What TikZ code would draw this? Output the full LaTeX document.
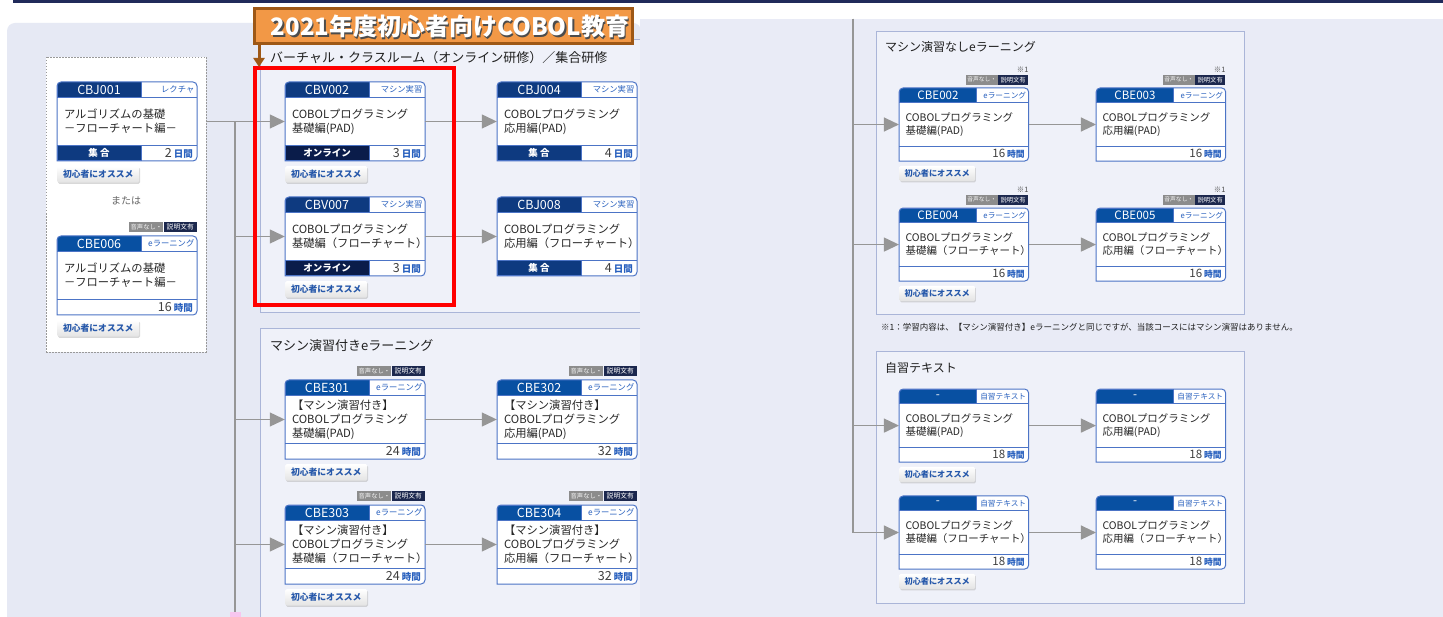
\documentclass[tikz,border=0pt]{standalone}
\usepackage{fontspec}
\setmainfont{Noto Sans CJK JP}
\usepackage{tikz}
\usetikzlibrary{arrows.meta,positioning,shadows}
\definecolor{colorbar}{RGB}{32,42,90}
\definecolor{colorbgl}{RGB}{230,233,244}
\definecolor{colorbgr}{RGB}{233,235,246}
\definecolor{colorpanel}{RGB}{239,241,249}
\definecolor{colorpanelline}{RGB}{170,181,216}
\definecolor{colornavy}{RGB}{14,58,128}
\definecolor{colorblue}{RGB}{8,80,162}
\definecolor{colordark}{RGB}{10,28,74}
\definecolor{colorcard}{RGB}{76,116,198}
\definecolor{colorkind}{RGB}{40,96,190}
\definecolor{colortag}{RGB}{38,88,170}
\definecolor{colorlink}{RGB}{150,150,150}
\definecolor{colormute}{RGB}{140,140,140}
\definecolor{colornote}{RGB}{28,40,78}
\definecolor{colortitle}{RGB}{242,152,70}
\definecolor{colortitleline}{RGB}{158,88,22}
\definecolor{colorpink}{RGB}{247,198,239}
\newcommand{\bodyfont}{\fontsize{11.3}{14}\selectfont}
\newcommand{\idfont}{\fontsize{12.5}{14}\selectfont}
\newcommand{\kindfont}{\fontsize{8.3}{10}\selectfont}
\newcommand{\footfont}{\fontsize{9.5}{11}\selectfont\bfseries}
\newcommand{\timefont}{\fontsize{12.5}{14}\selectfont}
\newcommand{\unitfont}{\fontsize{9.5}{11}\selectfont\bfseries\color{colorkind}}
\newcommand{\tagfont}{\fontsize{8.8}{10}\selectfont\bfseries}
\newcommand{\mutefont}{\fontsize{6.3}{7}\selectfont}
\newcommand{\notefont}{\fontsize{6.8}{7}\selectfont}
\newcommand{\secfont}{\fontsize{13}{15}\selectfont}
\newcommand{\rsecfont}{\fontsize{12}{14}\selectfont}
\newcommand{\studytime}[2]{#1\,{\unitfont #2}}
\tikzstyle{course}=[rectangle, minimum width=140pt, minimum height=48pt, inner sep=0pt, text width=126pt, align=left, text=black!85, font=\bodyfont]
\tikzstyle{cardid}=[text=white, inner sep=0pt, font=\idfont]
\tikzstyle{cardkind}=[anchor=east, text=colorkind, inner sep=0pt, font=\kindfont]
\tikzstyle{cardfoot}=[text=white, inner sep=0pt, font=\footfont]
\tikzstyle{cardtime}=[anchor=east, text=black!75, inner sep=0pt, font=\timefont]
\tikzstyle{cardline}=[draw=colorcard, line width=1pt]
\tikzstyle{hdrjv}=[fill=colornavy, draw=colorcard, line width=1pt]
\tikzstyle{hdre}=[fill=colorblue, draw=colorcard, line width=1pt]
\tikzstyle{footjv}=[fill=colornavy, draw=colorcard, line width=1pt]
\tikzstyle{footol}=[fill=colordark, draw=colorcard, line width=1pt]
\tikzstyle{foote}=[fill=white]
\tikzstyle{recommend}=[anchor=north west, minimum width=82pt, minimum height=16.5pt, inner sep=0pt, rounded corners=1.5pt, top color=white, bottom color=black!11, drop shadow={shadow xshift=0.8pt, shadow yshift=-1.2pt, fill=black!30}, text=colortag, font=\tagfont]
\tikzstyle{audionote}=[anchor=south east, fill=colornote, text=white, minimum width=33pt, minimum height=10.5pt, inner sep=0pt, font=\notefont]
\tikzstyle{audiooff}=[fill=colormute, text=white!92!gray, minimum width=34pt, minimum height=10.5pt, inner sep=0pt, font=\mutefont]
\tikzstyle{noteone}=[anchor=south east, text=black!70, inner sep=0pt, font=\fontsize{8}{9}\selectfont]
\tikzstyle{prereq}=[draw=black!40, dash pattern=on 1.5pt off 1.5pt, fill=white, minimum width=160pt, minimum height=295pt, inner sep=0pt, outer sep=0pt, line width=0.8pt]
\tikzstyle{panel}=[fill=colorpanel, draw=colorpanelline, line width=1pt]
\tikzstyle{sectitle}=[anchor=west, inner sep=0pt, text=black!88, font=\secfont]
\tikzstyle{link}=[draw=colorlink, line width=1.2pt, -{Triangle[length=15pt, width=14pt]}]
\tikzstyle{trunk}=[draw=colorlink, line width=1.2pt]
\tikzstyle{highlight}=[draw=red, line width=4pt]
\tikzstyle{titlebox}=[fill=colortitle, draw=colortitleline, line width=3pt, minimum width=378pt, minimum height=35pt, inner sep=0pt]
\tikzstyle{titletext}=[text=white, inner sep=0pt, font=\fontsize{24}{26}\selectfont\bfseries]
\tikzstyle{titlearrow}=[draw=colortitleline, line width=3pt, -{Triangle[length=9pt, width=11pt]}]
% #1 header style, #2 name, #3 top left, #4 code, #5 kind, #6 title, #7 footer text, #8 footer style, #9 length
\newcommand{\coursecard}[9][hdrjv]{%
  \begin{scope}[shift={#3}]
    \begin{scope}
      \clip[rounded corners=4pt] (0, 79) -- (0, 0) -- (140, 0) -- (140, 79) -- (0, 79);
      \fill[white] (0, 0) rectangle (140, 79);
      \path[#1] (0, 0) rectangle (84, 15.5);
      \path[#8] (0, 63.5) rectangle (84, 79);
    \end{scope}
    \draw[cardline] (0, 15.5) -- (140, 15.5) (0, 63.5) -- (140, 63.5);
    \draw[cardline, rounded corners=4pt, line cap=rect] (0, 79) -- (0, 0) -- (140, 0) -- (140, 79) -- (0, 79);
    \node[course] at (70, 39.5) (#2) {#6};
    \node[cardid] at (42, 7.75) (#2-id) {#4};
    \node[cardkind] at (137.5, 7.75) (#2-kind) {#5};
    \node[cardfoot] at (42, 71.25) (#2-foot) {#7};
    \node[cardtime] at (136, 71.25) (#2-time) {#9};
  \end{scope}}
\newcommand{\beginner}[2]{%
  \begin{scope}[shift={#2}]
    \node[recommend] at (0, 84) (#1) {初心者にオススメ};
  \end{scope}}
\newcommand{\audiotag}[2]{%
  \begin{scope}[shift={#2}]
    \node[audionote] at (140, -3.5) (#1-note) {説明文有};
    \node[audiooff, left=0pt of #1-note] (#1-off) {音声なし・};
  \end{scope}}
\newcommand{\markone}[2]{%
  \begin{scope}[shift={#2}]
    \node[noteone] at (140, -16.5) (#1) {※1};
  \end{scope}}

\begin{document}
\begin{tikzpicture}[x=1pt, y=-1pt]

		\useasboundingbox (0, 0) rectangle (1443, 617);
		\fill[white] (0, 0) rectangle (1443, 617);
		\fill[colorbar] (13, 0) rectangle (1443, 3);
		\fill[colorbgl, rounded corners=8pt] (7, 617) -- (7, 23) -- (641, 23) -- (641, 617);
		\fill[colorbgr] (640, 19) rectangle (1443, 617);

		% left panels
		\fill[colorpanel] (260, 40) rectangle (640, 313);
		\draw[colorpanelline, line width=1pt] (640, 40) -- (260, 40) -- (260, 313) -- (640, 313);
		\fill[colorpanel] (260, 329) rectangle (640, 617);
		\draw[colorpanelline, line width=1pt] (640, 329) -- (260, 329) -- (260, 617);
		\node[sectitle] at (270, 58) (sec-vc) {バーチャル・クラスルーム（オンライン研修）／集合研修};
		\node[sectitle] at (270, 346) (sec-withmachine) {マシン演習付きeラーニング};

		% right panels
		\draw[panel] (876, 32) rectangle (1244, 315);
		\draw[panel] (876, 352) rectangle (1244, 603);
		\node[sectitle, font=\rsecfont] at (885, 47) (sec-nomachine) {マシン演習なしeラーニング};
		\node[sectitle, font=\rsecfont] at (885, 368) (sec-text) {自習テキスト};
		\node[sectitle, font=\fontsize{8.5}{10}\selectfont] at (881, 327) (footnote) {※1：学習内容は、【マシン演習付き】eラーニングと同じですが、当該コースにはマシン演習はありません。};

		\node[prereq] at (126, 204.5) (prereq) {};
		\node[text=black!60, inner sep=0pt, font=\fontsize{10}{12}\selectfont] at (126, 201) (either) {または};

		\coursecard{cbj001}{(57, 82)}{CBJ001}{レクチャ}{アルゴリズムの基礎\\－フローチャート編－}{集 合}{footjv}{\studytime{2}{日間}}
		\beginner{cbj001-tag}{(57, 82)}

		\audiotag{cbe006}{(57, 236)}
		\coursecard[hdre]{cbe006}{(57, 236)}{CBE006}{eラーニング}{アルゴリズムの基礎\\－フローチャート編－}{}{foote}{\studytime{16}{時間}}
		\beginner{cbe006-tag}{(57, 236)}

		\coursecard{cbv002}{(285, 82)}{CBV002}{マシン実習}{COBOLプログラミング\\基礎編(PAD)}{オンライン}{footol}{\studytime{3}{日間}}
		\beginner{cbv002-tag}{(285, 82)}

		\coursecard{cbj004}{(497, 82)}{CBJ004}{マシン実習}{COBOLプログラミング\\応用編(PAD)}{集 合}{footjv}{\studytime{4}{日間}}

		\coursecard{cbv007}{(285, 197)}{CBV007}{マシン実習}{COBOLプログラミング\\基礎編（フローチャート）}{オンライン}{footol}{\studytime{3}{日間}}
		\beginner{cbv007-tag}{(285, 197)}

		\coursecard{cbj008}{(497, 197)}{CBJ008}{マシン実習}{COBOLプログラミング\\応用編（フローチャート）}{集 合}{footjv}{\studytime{4}{日間}}

		\audiotag{cbe301}{(285, 380)}
		\coursecard[hdre]{cbe301}{(285, 380)}{CBE301}{eラーニング}{【マシン演習付き】\\COBOLプログラミング\\基礎編(PAD)}{}{foote}{\studytime{24}{時間}}
		\beginner{cbe301-tag}{(285, 380)}

		\audiotag{cbe302}{(497, 380)}
		\coursecard[hdre]{cbe302}{(497, 380)}{CBE302}{eラーニング}{【マシン演習付き】\\COBOLプログラミング\\応用編(PAD)}{}{foote}{\studytime{32}{時間}}

		\audiotag{cbe303}{(285, 505)}
		\coursecard[hdre]{cbe303}{(285, 505)}{CBE303}{eラーニング}{【マシン演習付き】\\COBOLプログラミング\\基礎編（フローチャート）}{}{foote}{\studytime{24}{時間}}
		\beginner{cbe303-tag}{(285, 505)}

		\audiotag{cbe304}{(497, 505)}
		\coursecard[hdre]{cbe304}{(497, 505)}{CBE304}{eラーニング}{【マシン演習付き】\\COBOLプログラミング\\応用編（フローチャート）}{}{foote}{\studytime{32}{時間}}

		% right half of the page is drawn smaller
		\begin{scope}[shift={(876, 32)}, scale=0.925, transform shape]
		\markone{cbe002-mark}{(25, 60.5)}
		\audiotag{cbe002}{(25, 60.5)}
		\coursecard[hdre]{cbe002}{(25, 60.5)}{CBE002}{eラーニング}{COBOLプログラミング\\基礎編(PAD)}{}{foote}{\studytime{16}{時間}}
		\beginner{cbe002-tag}{(25, 60.5)}

		\markone{cbe003-mark}{(238, 60.5)}
		\audiotag{cbe003}{(238, 60.5)}
		\coursecard[hdre]{cbe003}{(238, 60.5)}{CBE003}{eラーニング}{COBOLプログラミング\\応用編(PAD)}{}{foote}{\studytime{16}{時間}}

		\markone{cbe004-mark}{(25, 190.3)}
		\audiotag{cbe004}{(25, 190.3)}
		\coursecard[hdre]{cbe004}{(25, 190.3)}{CBE004}{eラーニング}{COBOLプログラミング\\基礎編（フローチャート）}{}{foote}{\studytime{16}{時間}}
		\beginner{cbe004-tag}{(25, 190.3)}

		\markone{cbe005-mark}{(238, 190.3)}
		\audiotag{cbe005}{(238, 190.3)}
		\coursecard[hdre]{cbe005}{(238, 190.3)}{CBE005}{eラーニング}{COBOLプログラミング\\応用編（フローチャート）}{}{foote}{\studytime{16}{時間}}

		\coursecard[hdre]{txt1}{(25, 386)}{-}{自習テキスト}{COBOLプログラミング\\基礎編(PAD)}{}{foote}{\studytime{18}{時間}}
		\beginner{txt1-tag}{(25, 386)}
		\coursecard[hdre]{txt2}{(238, 386)}{-}{自習テキスト}{COBOLプログラミング\\応用編(PAD)}{}{foote}{\studytime{18}{時間}}

		\coursecard[hdre]{txt3}{(25, 501.6)}{-}{自習テキスト}{COBOLプログラミング\\基礎編（フローチャート）}{}{foote}{\studytime{18}{時間}}
		\beginner{txt3-tag}{(25, 501.6)}
		\coursecard[hdre]{txt4}{(238, 501.6)}{-}{自習テキスト}{COBOLプログラミング\\応用編（フローチャート）}{}{foote}{\studytime{18}{時間}}
		\end{scope}

		% connectors
		\coordinate (ltop) at (235, 121.5);
		\coordinate (lend) at (235, 617);
		\coordinate (rtop) at (853, 19);
		\draw[trunk] (ltop) -- (lend);
		\path (prereq.east |- cbv002) edge[link] (cbv002);
		\path (ltop |- cbv007) edge[link] (cbv007);
		\path (ltop |- cbe301) edge[link] (cbe301);
		\path (ltop |- cbe303) edge[link] (cbe303);
		\path (cbv002) edge[link] (cbj004);
		\path (cbv007) edge[link] (cbj008);
		\path (cbe301) edge[link] (cbe302);
		\path (cbe303) edge[link] (cbe304);
		\draw[link] (rtop) |- (cbe002);
		\draw[link] (rtop) |- (cbe004);
		\draw[link] (rtop) |- (txt1);
		\draw[link] (rtop) |- (txt3);
		\path (cbe002) edge[link] (cbe003);
		\path (cbe004) edge[link] (cbe005);
		\path (txt1) edge[link] (txt2);
		\path (txt3) edge[link] (txt4);
		\fill[colorpink] (230, 612) rectangle (241, 617);

		\draw[highlight] (255, 68) rectangle (454, 305);

		\node[titlebox] at (443, 26.5) (title) {};
		\node[titletext, text=black!70] at (451.5, 28) (title-shadow) {2021年度初心者向けCOBOL教育};
		\node[titletext] at (450, 26.5) (title-text) {2021年度初心者向けCOBOL教育};
		\coordinate (hl) at (259, 67);
		\draw[titlearrow] (title.south west -| hl) -- (hl);

\end{tikzpicture}
\end{document}
